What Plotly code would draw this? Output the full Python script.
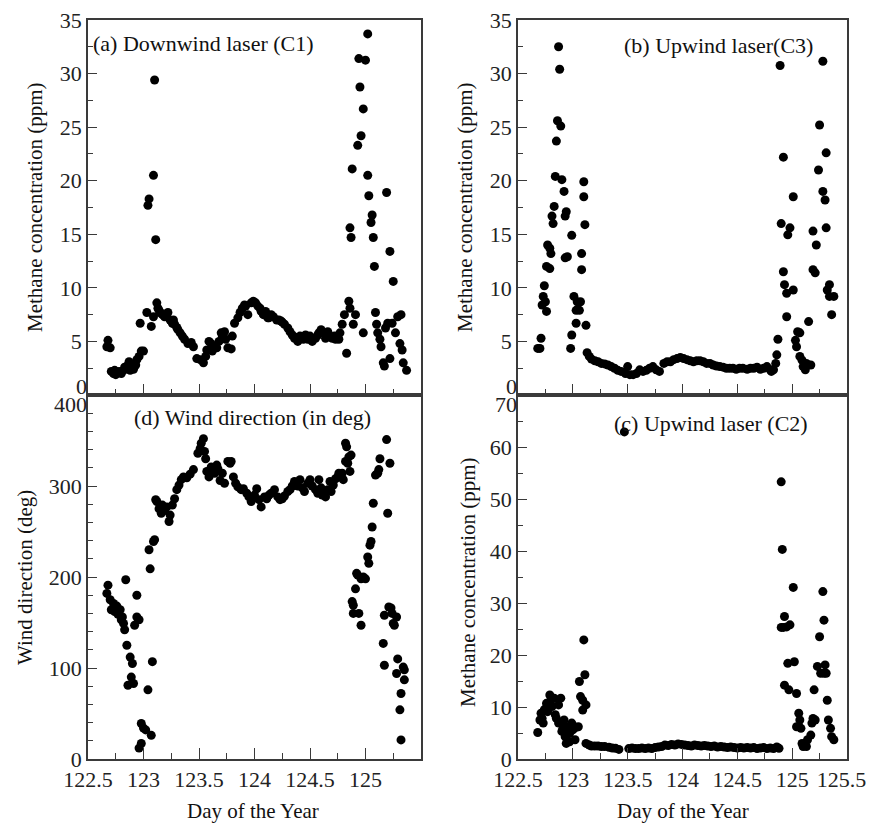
import plotly.graph_objects as go

# ---------------- data ----------------
# (a) Downwind laser (C1)
a_day = [122.68,122.67,122.70,122.71,122.73,122.74,122.76,122.78,122.80,122.82,122.85,122.87,122.89,122.91,122.93,
         122.94,122.96,122.97,122.98,123.00,123.03,123.04,123.05,123.07,123.09,123.10,123.11,123.09,123.12,123.13,
         123.15,123.17,123.19,123.22,123.24,123.26,123.28,123.30,123.33,123.35,123.37,123.40,123.45,123.48,123.51,
         123.54,123.56,123.57,123.59,123.61,123.64,123.66,123.68,123.70,123.73,123.74,123.76,123.79,123.80,123.82,
         123.85,123.87,123.89,123.92,123.94,123.97,123.99,124.01,124.03,124.06,124.08,124.10,124.12,124.15,124.17,
         124.20,124.22,124.24,124.27,124.30,124.32,124.34,124.36,124.39,124.41,124.44,124.46,124.48,124.52,124.55,
         124.57,124.60,124.62,124.64,124.67,124.70,124.73,124.76,124.77,124.79,124.81,124.83,124.85,124.86,124.86,
         124.87,124.88,124.89,124.91,124.93,124.94,124.95,124.96,124.98,124.98,125.00,125.02,125.02,125.03,125.05,
         125.06,125.07,125.08,125.09,125.10,125.11,125.13,125.14,125.16,125.17,125.18,125.19,125.20,125.22,125.22,
         125.24,125.25,125.27,125.29,125.31,125.32,125.33,125.34,125.37,
         122.75,122.83,122.88,123.14,123.20,123.27,123.31,123.43,123.62,123.71,123.91,124.05,124.13,124.25,124.37,
         124.43,124.50,124.58,124.66,124.72,124.75]
a_ch4 = [5.1,4.5,4.4,2.2,2.0,2.3,2.1,2.2,2.0,2.3,2.7,3.1,2.8,2.4,2.8,
         3.3,3.6,6.7,4.1,4.1,7.7,17.7,18.3,6.4,20.5,29.4,14.5,7.3,8.6,8.1,
         7.7,7.5,7.3,7.7,7.0,6.7,6.6,6.3,5.8,5.5,5.2,4.8,4.5,3.4,3.3,
         3.0,3.6,4.2,5.0,4.8,4.5,4.4,5.0,5.8,5.9,5.2,4.4,4.3,5.5,6.7,
         7.2,7.7,8.1,8.3,7.5,8.6,8.75,8.6,8.3,7.8,7.5,7.8,7.2,7.5,7.3,
         7.0,7.0,6.9,6.6,6.25,5.9,5.6,5.3,5.0,5.5,5.2,5.6,5.2,5.0,5.3,
         5.6,6.1,5.8,5.3,5.6,5.3,5.2,5.2,5.8,6.6,7.5,3.9,8.75,8.1,15.6,
         14.7,21.1,6.6,7.5,23.3,31.4,28.75,24.2,26.7,5.8,31.25,33.7,20.5,18.6,16.1,
         16.8,14.7,12.0,7.7,6.6,5.8,5.2,4.5,3.0,2.7,6.25,18.9,6.7,3.4,13.4,
         6.7,10.6,5.8,7.3,4.8,7.5,4.2,3.0,2.3,
         1.9,2.6,2.3,7.9,7.5,7.0,6.1,4.9,4.1,5.5,8.4,8.1,7.2,6.8,5.4,
         5.4,5.5,5.8,5.9,5.5,5.4]

# (b) Upwind laser (C3)
b_day = [122.68,122.70,122.71,122.72,122.73,122.74,122.75,122.76,122.76,122.79,122.77,122.79,122.80,122.81,122.82,
         122.83,122.84,122.85,122.86,122.87,122.88,122.89,122.90,122.92,122.93,122.94,122.93,122.95,122.98,122.99,
         122.99,123.01,123.03,123.03,123.04,123.06,123.07,123.08,123.08,123.10,123.10,123.11,123.12,123.13,123.15,
         123.17,123.20,123.23,123.26,123.29,123.32,123.35,123.38,123.41,123.44,123.48,123.50,123.52,123.55,123.58,
         123.61,123.64,123.67,123.70,123.73,123.76,123.79,123.83,123.86,123.89,123.92,123.95,123.98,124.01,124.04,
         124.07,124.10,124.13,124.16,124.19,124.22,124.25,124.28,124.31,124.34,124.37,124.40,124.43,124.46,124.49,
         124.52,124.55,124.59,124.62,124.65,124.68,124.71,124.74,124.77,124.80,124.81,124.83,124.85,124.86,124.87,
         124.89,124.90,124.92,124.92,124.93,124.95,124.95,124.96,124.98,125.01,125.01,125.03,125.04,125.05,125.07,
         125.07,125.09,125.10,125.12,125.13,125.15,125.17,125.19,125.19,125.21,125.22,125.24,125.25,125.28,125.28,
         125.30,125.31,125.31,125.32,125.34,125.34,125.36,125.38]
b_ch4 = [4.35,4.35,5.3,8.4,9.2,10.2,8.7,7.8,12.0,11.8,14.0,13.7,13.2,16.7,16.0,
         17.6,20.4,23.7,25.6,32.5,30.4,25.1,20.1,19.0,16.7,17.1,12.8,12.9,4.35,14.9,
         5.6,9.2,7.9,6.7,8.7,7.9,8.7,11.7,13.2,19.9,18.5,15.9,6.5,3.95,3.6,
         3.35,3.2,3.1,2.95,2.9,2.8,2.65,2.5,2.3,2.2,2.0,2.65,1.9,1.9,2.0,
         2.35,2.2,2.3,2.5,2.65,2.35,2.2,2.95,3.1,3.1,3.3,3.4,3.5,3.4,3.3,
         3.2,3.1,3.2,3.2,3.1,2.95,2.95,2.8,2.7,2.65,2.6,2.5,2.5,2.5,2.4,
         2.5,2.5,2.4,2.5,2.5,2.6,2.4,2.5,2.65,2.35,2.2,2.35,2.95,3.75,5.2,
         30.75,16.0,22.2,11.5,10.3,9.5,7.3,14.95,15.6,9.8,18.5,5.1,4.5,5.9,5.8,
         3.6,3.25,2.65,2.35,2.95,6.85,2.8,11.7,15.3,11.4,14.0,21.0,25.2,31.15,19.0,
         18.2,22.6,15.6,9.8,10.3,9.2,7.5,9.2]

# (c) Upwind laser (C2)
c_day = [122.68,122.70,122.71,122.72,122.73,122.74,122.76,122.77,122.79,122.80,122.81,122.83,122.84,122.85,122.87,
         122.89,122.87,122.90,122.91,122.92,122.93,122.94,122.95,122.97,122.97,122.99,123.00,123.02,123.03,123.05,
         123.06,123.07,123.09,123.09,123.10,123.11,123.12,123.12,123.15,123.17,123.20,123.23,123.26,123.29,123.33,
         123.36,123.39,123.42,123.47,
         123.51,123.54,123.57,123.60,123.63,123.66,123.69,123.72,123.75,123.78,123.81,123.84,123.87,123.90,123.93,
         123.96,123.99,124.02,124.05,124.08,124.11,124.14,124.17,124.20,124.23,124.26,124.29,124.32,124.35,124.38,
         124.41,124.44,124.47,124.50,124.53,124.56,124.59,124.62,124.65,124.68,124.71,124.74,124.77,124.80,124.83,
         124.86,124.88,
         124.90,124.91,124.90,124.92,124.93,124.95,124.98,124.93,124.96,124.97,125.01,125.02,125.04,125.04,125.06,
         125.07,125.08,125.09,125.10,125.13,125.14,125.17,125.18,125.19,125.20,125.21,125.23,125.25,125.26,125.28,
         125.29,125.29,125.30,125.31,125.32,125.33,125.35,125.36,125.38]
c_ch4 = [5.1,7.5,8.8,7.8,6.9,9.5,10.7,9.1,12.3,11.3,10.1,11.7,8.5,7.8,10.4,
         11.7,6.9,5.3,5.9,7.5,4.3,3.0,6.2,4.9,3.3,6.9,5.6,3.7,6.1,6.2,
         14.9,12.0,11.3,9.4,22.9,16.2,10.4,3.0,2.7,2.5,2.5,2.5,2.4,2.4,2.25,
         2.1,2.05,1.85,62.9,
         2.0,2.1,2.0,2.0,2.1,2.0,2.1,2.0,2.2,2.3,2.4,2.7,2.6,2.8,2.7,
         2.9,2.8,2.7,2.6,2.5,2.7,2.6,2.5,2.6,2.5,2.4,2.5,2.3,2.4,2.3,
         2.2,2.3,2.2,2.1,2.2,2.1,2.2,2.1,2.2,2.0,2.1,2.2,2.0,2.1,2.0,
         2.3,2.05,
         53.3,40.3,25.3,25.3,27.4,25.4,25.8,14.2,18.4,13.3,33.0,18.7,12.6,6.2,8.8,
         7.5,5.9,3.0,2.4,2.4,3.7,4.6,6.9,7.8,13.3,7.5,17.8,23.5,16.5,32.2,
         26.7,16.5,18.1,16.5,11.3,7.5,5.9,4.3,3.7]

# (d) Wind direction (deg)
d_day = [122.67,122.68,122.70,122.71,122.73,122.74,122.76,122.77,122.79,122.80,122.81,122.82,122.83,122.84,122.85,
         122.86,122.88,122.89,122.90,122.91,122.92,122.94,122.94,122.96,122.96,122.98,122.98,123.00,123.02,123.04,
         123.05,123.06,123.07,123.08,123.09,123.10,123.11,123.12,123.14,123.16,123.17,123.19,123.21,123.23,123.24,
         123.26,123.28,123.30,123.32,123.34,123.36,123.39,123.42,123.45,123.49,123.51,123.52,123.54,123.55,123.56,
         123.57,123.59,123.61,123.62,123.64,123.66,123.67,123.69,123.71,123.73,123.76,123.78,123.79,123.81,123.83,
         123.85,123.88,123.90,123.93,123.95,123.97,124.00,124.02,124.04,124.06,124.09,124.11,124.13,124.15,124.18,
         124.21,124.23,124.25,124.27,124.30,124.32,124.34,124.36,124.39,124.41,124.43,124.45,124.48,124.50,124.52,
         124.55,124.57,124.58,124.60,124.61,124.64,124.66,124.68,124.69,124.71,124.73,124.75,124.76,124.79,124.80,
         124.82,124.83,124.82,124.84,124.85,124.86,124.87,124.88,124.89,124.89,124.91,124.92,124.93,124.94,124.96,
         124.96,124.98,125.00,125.02,125.03,125.04,125.05,125.06,125.07,125.09,125.11,125.12,125.13,125.16,125.17,
         125.17,125.19,125.20,125.21,125.22,125.23,125.24,125.25,125.26,125.28,125.28,125.29,125.31,125.32,125.32,
         125.34,125.35,125.35]
d_dir = [182,191,175,164,171,162,168,159,164,153,156,149,142,197,125,
         81,112,90,105,83,147,180,156,153,12,17,39,34,32,76,
         230,209,26,107,239,241,285,283,275,270,279,273,277,261,268,
         279,286,296,301,307,310,309,313,318,336,341,347,352,338,330,
         316,310,321,318,314,323,319,306,314,303,327,325,327,310,303,
         299,296,297,292,288,283,290,297,285,277,288,286,290,292,296,
         288,285,286,289,294,296,300,305,300,307,298,294,303,307,300,
         296,292,307,298,290,288,296,305,294,301,308,310,314,314,307,
         347,343,327,325,332,316,334,173,160,169,187,204,202,160,147,
         198,200,198,222,215,235,239,255,281,312,314,318,330,127,103,
         158,351,270,167,325,166,160,149,147,156,94,110,54,72,21,
         101,98,87]

# ---------------- figure ----------------
FONT = "Liberation Serif"
W, H = 870, 824
AX = "#3a3a3a"
CLEAR = "rgba(0,0,0,0)"
TICKFONT = dict(family=FONT, size=22, color="#222")

def px(x):
    return x / W

def py(y):
    return 1 - y / H

xa = [px(88), px(421)]
xb = [px(518), px(847)]
ytop = [py(395), py(20)]
ybot = [py(759), py(395)]

mk = dict(color="black", size=9, line=dict(width=0))

fig = go.Figure()
fig.add_trace(go.Scatter(x=a_day, y=a_ch4, mode="markers", marker=mk, xaxis="x", yaxis="y", showlegend=False))
fig.add_trace(go.Scatter(x=b_day, y=b_ch4, mode="markers", marker=mk, xaxis="x2", yaxis="y2", showlegend=False))
fig.add_trace(go.Scatter(x=d_day, y=d_dir, mode="markers", marker=mk, xaxis="x3", yaxis="y3", showlegend=False))
fig.add_trace(go.Scatter(x=c_day, y=c_ch4, mode="markers", marker=mk, xaxis="x4", yaxis="y4", showlegend=False))
# empty traces that only register the overlay axes carrying the boundary tick labels
for xr, yr in (("x", "y5"), ("x2", "y6"), ("x3", "y7"), ("x4", "y8")):
    fig.add_trace(go.Scatter(x=[], y=[], mode="markers", xaxis=xr, yaxis=yr,
                             showlegend=False, hoverinfo="skip"))

def xax(domain, anchor, labels, tickvals, ticktext):
    return dict(domain=domain, anchor=anchor, range=[122.5, 125.5], showgrid=False, zeroline=False,
                automargin=False, ticklabeloverflow="allow",
                showline=True, linecolor=AX, linewidth=1.5, mirror=True,
                ticks="inside", ticklen=11, tickwidth=1.3, tickcolor=AX,
                tickvals=tickvals, ticktext=ticktext,
                showticklabels=labels,
                minor=dict(dtick=0.25, tick0=122.5, ticks="inside", ticklen=6, tickwidth=1.2, tickcolor=AX),
                tickfont=TICKFONT)

def yax(domain, anchor, rng, tickvals, mdtick):
    return dict(domain=domain, anchor=anchor, range=rng, showgrid=False, zeroline=False,
                automargin=False, ticklabeloverflow="allow",
                showline=True, linecolor=AX, linewidth=1.5, mirror=True,
                ticks="inside", ticklen=9, tickwidth=1.3, tickcolor=AX,
                tickvals=tickvals, ticktext=[("%g" % v) for v in tickvals],
                minor=dict(dtick=mdtick, tick0=0, ticks="inside", ticklen=5, tickwidth=1.2, tickcolor=AX),
                tickfont=TICKFONT)

def edge_label(anchor, over, rng, val, shift):
    # a single boundary tick label, nudged like in the reference
    return dict(anchor=anchor, overlaying=over, range=rng, showgrid=False, zeroline=False,
                automargin=False, ticklabeloverflow="allow", showline=False,
                ticks="inside", ticklen=9, tickcolor=CLEAR,
                tickvals=[val], ticktext=["%g" % val], ticklabelshift=shift,
                tickfont=TICKFONT)

day_ticks = [122.5, 123, 123.5, 124, 124.5, 125, 125.5]
day_text = ["122.5", "123", "123.5", "124", "124.5", "125", "125.5\u00a0\u00a0"]

fig.update_layout(
    width=W, height=H, margin=dict(l=0, r=0, t=0, b=0),
    paper_bgcolor="white", plot_bgcolor="white",
    xaxis=xax(xa, "y", False, day_ticks, day_text),
    yaxis=yax(ytop, "x", [0, 35], [5, 10, 15, 20, 25, 30, 35], 2.5),
    xaxis2=xax(xb, "y2", False, day_ticks, day_text),
    yaxis2=yax(ytop, "x2", [0, 35], [5, 10, 15, 20, 25, 30, 35], 2.5),
    xaxis3=xax(xa, "y3", True, day_ticks[:-1], day_text[:-1]),
    yaxis3=yax(ybot, "x3", [0, 400], [0, 100, 200, 300], 20),
    xaxis4=xax(xb, "y4", True, day_ticks, day_text),
    yaxis4=yax(ybot, "x4", [0, 70], [0, 10, 20, 30, 40, 50, 60], 5),
    yaxis5=edge_label("x", "y", [0, 35], 0, -9),
    yaxis6=edge_label("x2", "y2", [0, 35], 0, -9),
    yaxis7=edge_label("x3", "y3", [0, 400], 400, 9),
    yaxis8=edge_label("x4", "y4", [0, 70], 70, 9),
)

tf = dict(family=FONT, size=22, color="#111")
tf2 = dict(family=FONT, size=21, color="#111")
ann = [
    dict(text="(a) Downwind laser (C1)", x=px(91), y=py(43), xanchor="left", yanchor="middle", font=tf),
    dict(text="(b) Upwind laser(C3)", x=px(718), y=py(46), xanchor="center", yanchor="middle", font=tf),
    dict(text="(d) Wind direction (in deg)", x=px(252), y=py(417), xanchor="center", yanchor="middle", font=tf),
    dict(text="(c) Upwind laser (C2)", x=px(711), y=py(423), xanchor="center", yanchor="middle", font=tf),
    dict(text="Methane concentration (ppm)", x=px(35), y=py(207), textangle=-90, xanchor="center", yanchor="middle", font=tf2),
    dict(text="Methane concentration (ppm)", x=px(465), y=py(207), textangle=-90, xanchor="center", yanchor="middle", font=tf2),
    dict(text="Wind direction (deg)", x=px(25), y=py(578), textangle=-90, xanchor="center", yanchor="middle", font=tf2),
    dict(text="Methane concentration (ppm)", x=px(468), y=py(582), textangle=-90, xanchor="center", yanchor="middle", font=tf2),
    dict(text="Day of the Year", x=px(253), y=py(811), xanchor="center", yanchor="middle", font=tf2),
    dict(text="Day of the Year", x=px(683), y=py(811), xanchor="center", yanchor="middle", font=tf2),
]
for a in ann:
    a.update(xref="paper", yref="paper", showarrow=False)
fig.update_layout(annotations=ann)

fig.write_html("out.html")
